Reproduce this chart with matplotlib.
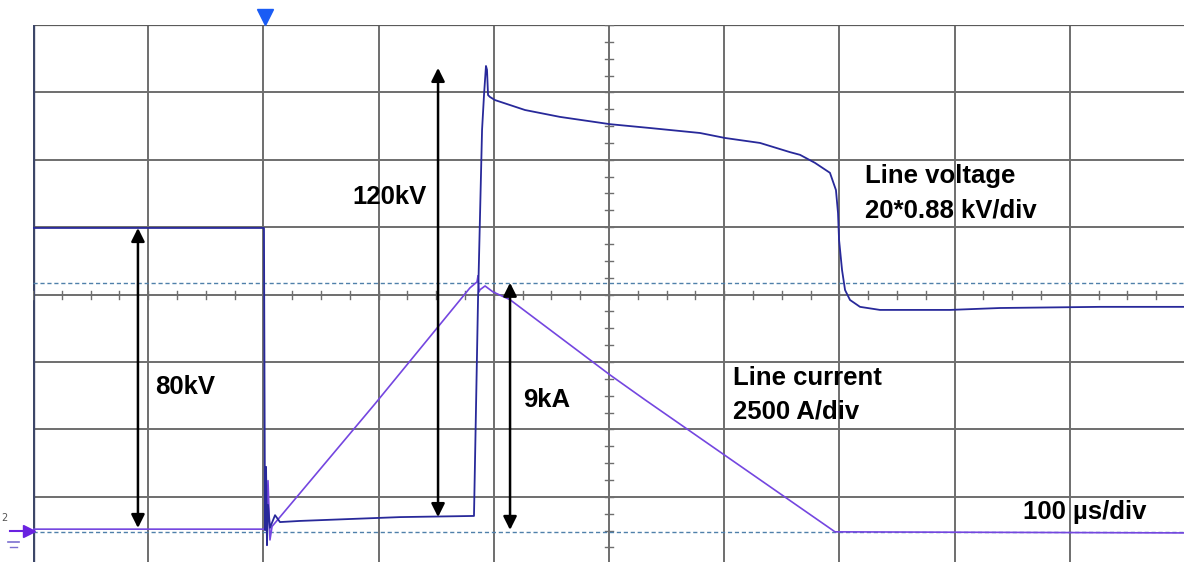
import matplotlib
matplotlib.use('Agg')
import matplotlib.pyplot as plt
import numpy as np

# Scope settings
US_PER_DIV = 100.0
KV_PER_DIV = 20 * 0.88
KA_PER_DIV = 2.5
V_OFFSET_DIV = -3.5     # channel ground markers (divisions from centre)
I_OFFSET_DIV = -3.52

# Line voltage trace (time in us, voltage in kV)
v_time = [0, 200.5, 201.4, 202.3, 203.1, 204.0, 205.7, 210.1, 214.4, 231.8, 318.6,
          382.8, 386.3, 389.8, 391.5, 393.2, 394.1, 395.0, 396.7, 401.0, 427.1,
          457.5, 500.9, 535.6, 579.0, 600.7, 631.1, 657.1, 665.8, 678.8, 691.8,
          697.0, 698.8, 699.7, 702.3, 704.9, 709.2, 717.9, 735.2, 796.0, 839.4,
          926.2, 1000]
v_kv = [79.0, 79.0, 0.1, 16.6, -3.8, 6.7, 0.7, 4.0, 2.2, 2.5, 3.5,
        3.8, 60.2, 104.6, 113.7, 121.3, 120.3, 113.7, 113.2, 112.4, 109.8,
        108.0, 106.1, 105.1, 103.8, 102.5, 101.2, 98.8, 98.1, 96.0, 93.4,
        88.9, 82.9, 75.9, 68.0, 62.8, 60.2, 58.4, 57.6, 57.6, 58.1,
        58.4, 58.4]

# Line current trace (time in us, current in kA)
i_time = [0, 200.5, 201.4, 202.3, 203.1, 204.0, 205.7, 207.5, 296.9, 379.3,
          385.4, 386.3, 387.2, 388.0, 392.4, 399.3, 414.1, 500.9, 531.2,
          696.2, 1000]
i_ka = [0.1, 0.1, 0.2, 2.4, -0.5, 1.9, -0.3, 0.2, 4.75, 9.05,
        9.27, 9.5, 8.9, 8.98, 9.12, 8.90, 8.61, 5.82, 4.90,
        0.0, -0.04]

# Cursor levels (kA)
cursor_ka = [9.24, 0.0]

# Measurement arrows: (time us, low, high)
arrow_80kv = (91.1, 0.65, 79.0)
arrow_120kv = (351.6, 3.5, 120.8)
arrow_9ka = (414.1, 0.07, 9.24)


def v_div(v):
    return np.asarray(v) / KV_PER_DIV + V_OFFSET_DIV


def i_div(i):
    return np.asarray(i) / KA_PER_DIV + I_OFFSET_DIV


fig = plt.figure(figsize=(11.84, 5.62), dpi=100)
ax = fig.add_axes([33 / 1184, -2.2 / 562, 1152 / 1184, 539.2 / 562])
ax.set_xlim(0, 10 * US_PER_DIV)
ax.set_ylim(-4, 4)
ax.axis('off')

grid_col = '#6e6e6e'
for k in range(1, 11):
    ax.axvline(k * US_PER_DIV, color=grid_col, lw=1.4, zorder=1)
for k in range(-3, 4):
    ax.axhline(k, color=grid_col, lw=1.4, zorder=1)
ax.axhline(4, color='#5a5a5a', lw=1.6, zorder=1)
ax.axvline(0, color='#3c4668', lw=2.4, zorder=1)

# quarter-division ticks on the centre lines
sub_x = np.arange(0, 1000.01, 25)
for x in sub_x:
    ax.plot([x, x], [-0.06, 0.06], color=grid_col, lw=1.0, zorder=1)
sub_y = np.arange(-4, 4.01, 0.25)
for y in sub_y:
    ax.plot([496.5, 503.5], [y, y], color=grid_col, lw=1.0, zorder=1)

# cursors
for c in cursor_ka:
    ax.axhline(i_div(c), color='#4f80aa', lw=1.0, ls=(0, (3, 2)), zorder=2)

ax.plot(i_time, i_div(i_ka), color='#7446e0', lw=1.2, zorder=3)
ax.plot(v_time, v_div(v_kv), color='#28299a', lw=1.3, zorder=4)

# arrows
arrow_kw = dict(arrowstyle='<|-|>', color='black', lw=1.8, mutation_scale=20,
                shrinkA=0, shrinkB=0)
for (t, lo, hi), conv in [(arrow_80kv, v_div), (arrow_120kv, v_div), (arrow_9ka, i_div)]:
    ax.annotate('', xy=(t, conv(hi)), xytext=(t, conv(lo)), arrowprops=arrow_kw, zorder=5)

font = dict(family='Liberation Sans', fontweight='bold', fontsize=18.5,
            color='black', va='center', ha='left')
ax.text(105.9, -1.37, '80kV', **font)
ax.text(276.9, 1.45, '120kV', **font)
ax.text(425.3, -1.56, '9kA', **font)
ax.text(722.2, 1.76, 'Line voltage', **font)
ax.text(722.2, 1.255, '20*0.88 kV/div', **font)
ax.text(607.6, -1.24, 'Line current', **font)
ax.text(607.6, -1.74, '2500 A/div', **font)
ax.text(859.4, -3.225, '100 \u00b5s/div', **font)

# trigger marker and channel ground marker
ax.plot([201.4], [4.12], marker='v', color='#1a5cf5', markersize=11,
        clip_on=False, zorder=6)
ax.plot([-3.5], [v_div(0)], marker='>', color='#6a22e0', markersize=8,
        clip_on=False, zorder=6)
ax.plot([-20, -3.5], [v_div(0)] * 2, color='#6a22e0', lw=1.5, clip_on=False)
ax.text(-25, v_div(0) + 0.18, '2', fontsize=7, color='#555', ha='center',
        va='center', clip_on=False)
ax.plot([-22, -12], [v_div(0) - 0.17] * 2, color='#7b6fd0', lw=1.2, clip_on=False)
ax.plot([-20, -14], [v_div(0) - 0.24] * 2, color='#7b6fd0', lw=1.0, clip_on=False)

fig.savefig('out.png', dpi=100, facecolor='white')
